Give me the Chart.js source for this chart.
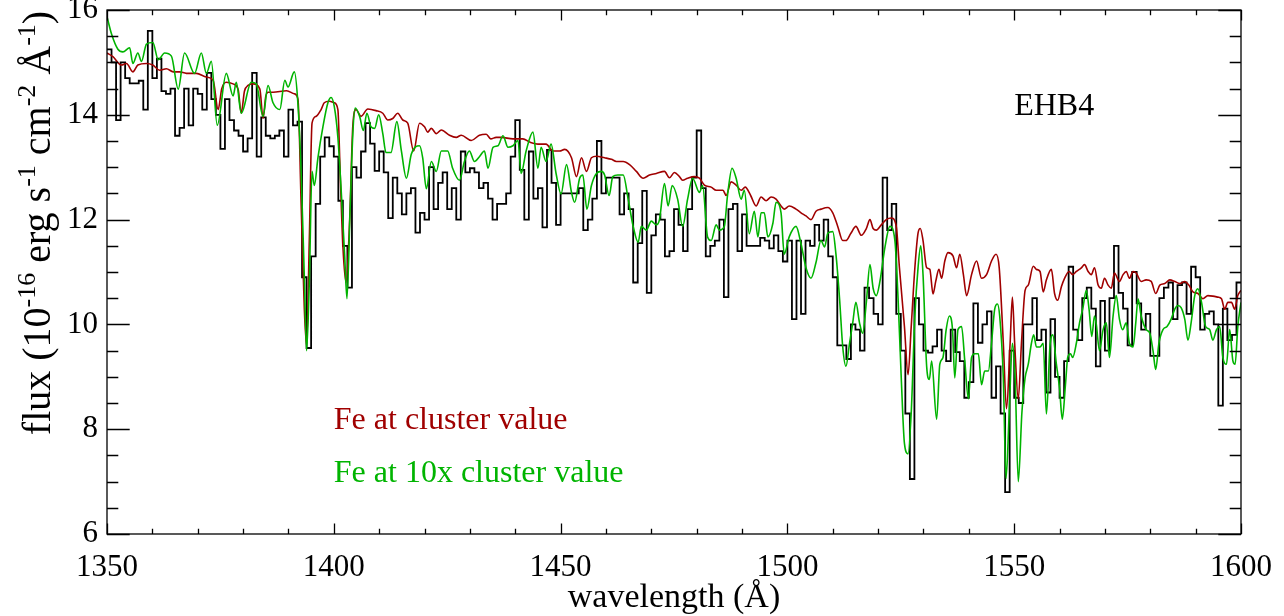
<!DOCTYPE html>
<html>
<head>
<meta charset="utf-8">
<script src="https://cdn.jsdelivr.net/npm/chart.js@4/dist/chart.umd.min.js"></script>
<style>
  html, body { margin: 0; background: #fff; }
</style>
</head>
<body>
<canvas id="specChart" width="1284" height="616"></canvas>
<script>
// observed spectrum, 1 Å bins starting at 1350 Å (flux in 1e-16 erg/s/cm2/Å)
const binStart = 1350;
const binWidth = 1;
const observedFlux = [
  15.25, 15.0, 13.9, 15.0, 14.7, 14.6, 14.6, 14.65, 14.1, 15.6,
  14.7, 15.07, 14.45, 14.4, 14.5, 13.6, 13.75, 14.5, 13.8, 14.5,
  14.4, 14.1, 14.8, 14.3, 14.0, 13.35, 14.3, 13.9, 13.7, 13.6,
  13.3, 13.55, 14.8, 13.2, 13.95, 13.6, 13.55, 13.6, 13.7, 13.2,
  14.1, 13.8, 13.87, 10.9, 9.55, 11.3, 12.3, 13.2, 13.57, 13.4,
  13.2, 12.36, 11.5, 10.7, 13.0, 12.8, 13.3, 13.84, 13.45, 12.93,
  13.3, 12.9, 12.03, 12.8, 12.5, 12.1, 12.5, 12.6, 11.75, 12.13,
  12.0, 13.0, 12.2, 12.7, 12.9, 12.2, 12.6, 12.0, 13.3, 12.9,
  12.98, 12.9, 12.6, 12.7, 12.4, 12.0, 12.3, 12.3, 12.5, 13.2,
  13.9, 12.95, 12.0, 13.3, 12.4, 12.6, 11.85, 13.33, 12.7, 11.9,
  12.5, 12.5, 12.5, 12.5, 12.6, 11.8, 12.0, 12.4, 13.5, 12.5,
  12.8, 12.8, 12.8, 12.1, 12.5, 12.2, 10.8, 11.55, 12.55, 10.6,
  11.7, 12.1, 12.0, 11.3, 11.4, 12.2, 11.9, 11.4, 12.2, 12.8,
  13.7, 12.6, 11.3, 11.5, 11.6, 12.0, 10.52, 12.2, 12.3, 11.4,
  12.1, 11.5, 11.5, 11.5, 11.65, 11.6, 11.45, 11.7, 11.4, 11.2,
  11.6, 10.1, 11.6, 10.2, 11.6, 11.5, 11.9, 11.6, 12.0, 11.3,
  10.9, 9.6, 9.6, 9.34, 10.0, 9.9, 9.5, 10.7, 10.5, 10.2,
  10.0, 12.8, 11.8, 12.3, 10.2, 9.5, 8.3, 7.05, 10.5, 10.0,
  9.5, 9.46, 9.58, 9.9, 9.5, 9.3, 9.9, 9.47, 9.3, 8.6,
  8.9, 10.4, 9.65, 10.0, 10.25, 8.6, 9.2, 8.3, 6.8, 9.5,
  8.6, 8.5, 10.0, 10.0, 10.5, 9.7, 9.9, 8.7, 10.1, 9.0,
  8.6, 9.3, 11.1, 9.9, 9.7, 10.5, 10.7, 10.3, 9.2, 10.45,
  9.5, 10.5, 11.5, 10.6, 10.3, 9.6, 11.0, 10.4, 9.9, 10.2,
  9.4, 9.4, 10.5, 10.7, 10.8, 10.1, 10.75, 10.8, 10.2, 11.1,
  10.9, 9.9, 10.2, 10.25, 10.0, 8.45, 10.3, 9.7, 9.8, 10.8
];

// model with Fe at cluster value: [wavelength, flux]
const modelCluster = [
  [1350, 15.18], [1351.3, 15.11], [1353.2, 14.95], [1354.3, 14.98], [1355.7, 14.82],
  [1356.8, 14.95], [1358.7, 14.98], [1360.1, 14.95], [1361.6, 14.85], [1363.1, 14.88],
  [1364.6, 14.82], [1366, 14.82], [1367.5, 14.79], [1369.7, 14.79], [1371.9, 14.72],
  [1373.4, 14.66], [1374.5, 14.1], [1375.3, 14.5], [1376.3, 14.62], [1377.8, 14.59],
  [1378.9, 14.49], [1379.6, 14.03], [1380.3, 14.45], [1381.1, 14.56], [1382.2, 14.59],
  [1383.7, 14.49], [1384.4, 13.93], [1385, 14.35], [1385.5, 14.43], [1386.6, 14.43],
  [1389.6, 14.46], [1391.3, 14.4], [1392.1, 14.3], [1392.8, 12.3], [1393.5, 10.3],
  [1394.0, 9.6], [1394.6, 11.6], [1395.2, 13.84], [1396.1, 13.97], [1397.2, 14.1],
  [1397.9, 14.23], [1399, 14.26], [1400.1, 14.23], [1400.9, 14.1], [1401.4, 12.9],
  [1402, 11.5], [1402.7, 10.8], [1403.5, 12.0], [1404.2, 13.8], [1404.9, 14.1],
  [1406, 13.97], [1407.5, 14.11], [1409.3, 14.08], [1410.8, 14.03], [1411.9, 13.9],
  [1413, 13.93], [1414.1, 14.03], [1415.2, 13.9], [1416.3, 13.84], [1417.6, 13.31],
  [1418.9, 13.84], [1420, 13.77], [1420.7, 13.67], [1421.5, 13.74], [1422.6, 13.64],
  [1423.7, 13.71], [1425.5, 13.61], [1427, 13.57], [1428.1, 13.61], [1430.3, 13.51],
  [1432.1, 13.61], [1433.6, 13.63], [1434.6, 13.54], [1435.8, 13.57], [1436.9, 13.57],
  [1439.5, 13.54], [1441.7, 13.54], [1443.2, 13.48], [1445, 13.44], [1446.8, 13.44],
  [1448.3, 13.31], [1449.8, 13.31], [1450.9, 13.34], [1452.4, 13.18], [1453.5, 12.82],
  [1454.6, 13.18], [1455.7, 12.92], [1456.8, 13.18], [1457.9, 13.21], [1459.7, 13.18],
  [1461.2, 13.15], [1462.3, 13.11], [1463.8, 13.11], [1465.2, 13.05], [1466.7, 12.92],
  [1468.2, 12.79], [1469.6, 12.85], [1471.1, 12.88], [1472.9, 12.92], [1474, 12.8],
  [1475.1, 12.9], [1476.2, 12.82], [1476.9, 12.75], [1478, 12.79], [1479.5, 12.82],
  [1480.6, 12.79], [1481.7, 12.66], [1483.2, 12.62], [1484.3, 12.56], [1485.8, 12.56],
  [1486.5, 12.46], [1487.6, 12.72], [1488.7, 12.66], [1489.8, 12.56], [1490.7, 12.62],
  [1491.9, 12.46], [1493.1, 12.26], [1494.2, 12.43], [1495.3, 12.36], [1496.4, 12.43],
  [1497.5, 12.39], [1498.6, 12.26], [1499.3, 12.2], [1500.4, 12.26], [1501.9, 12.2],
  [1503, 12.13], [1504.1, 12.07], [1505.2, 12.0], [1506.3, 12.16], [1507.4, 12.2],
  [1508.9, 12.23], [1510, 12.13], [1511.1, 11.87], [1512.2, 11.6], [1512.9, 11.6],
  [1514, 11.74], [1515.1, 11.87], [1516.3, 11.7], [1517.4, 11.83], [1518.2, 12.0],
  [1518.9, 11.83], [1519.6, 11.8], [1520.7, 11.9], [1521.8, 12.0], [1522.9, 12.03],
  [1524, 11.87], [1524.7, 11.08], [1525.8, 9.96], [1526.6, 9.04], [1527.3, 9.96],
  [1528.1, 11.08], [1528.8, 11.74], [1529.3, 11.83], [1529.9, 11.6], [1530.7, 11.08],
  [1531.4, 11.05], [1532.1, 10.58], [1532.7, 10.82], [1533.4, 11.05], [1534, 10.88],
  [1534.7, 11.21], [1535.4, 11.37], [1536.5, 11.31], [1537.3, 11.08], [1538, 11.34],
  [1538.8, 10.95], [1539.5, 10.55], [1540.6, 10.95], [1541.7, 11.21], [1542.8, 10.88],
  [1543.9, 10.95], [1545, 11.21], [1546, 11.34], [1546.7, 11.08], [1547.6, 9.64],
  [1548.3, 8.39], [1549.1, 9.64], [1549.6, 10.52], [1550.1, 9.64], [1550.9, 8.58],
  [1551.6, 9.64], [1552.4, 10.65], [1553.1, 10.75], [1554.2, 11.11], [1554.9, 11.05],
  [1555.7, 11.01], [1556.4, 10.62], [1557.1, 10.85], [1558.2, 11.05], [1558.9, 10.59],
  [1559.6, 10.46], [1560.4, 10.72], [1561.1, 10.88], [1562.1, 11.01], [1562.9, 10.95],
  [1563.7, 11.01], [1564.8, 11.08], [1565.5, 11.14], [1566.3, 11.01], [1567, 10.95],
  [1567.7, 11.08], [1568.5, 10.75], [1569.2, 10.69], [1569.9, 10.88], [1570.7, 10.75],
  [1571.4, 10.69], [1572.1, 10.98], [1573.2, 10.82], [1574, 10.95], [1574.7, 11.01],
  [1575.4, 10.88], [1576.2, 11.01], [1576.9, 10.98], [1578, 10.82], [1579.1, 10.85],
  [1580.2, 10.82], [1581.2, 10.59], [1582.1, 10.75], [1583.2, 10.78], [1584.3, 10.85],
  [1585.4, 10.82], [1586.5, 10.78], [1587.6, 10.82], [1588.5, 10.75], [1589.4, 10.62],
  [1590.5, 10.59], [1591.6, 10.49], [1592.7, 10.55], [1593.8, 10.54], [1594.9, 10.52],
  [1595.7, 10.49], [1596.4, 10.29], [1597.1, 10.42], [1597.9, 10.42], [1598.6, 10.29],
  [1599.3, 10.55], [1600, 10.65]
];

// model with Fe at 10x cluster value: [wavelength, flux]
const modelFe10 = [
  [1350, 15.87], [1351, 15.54], [1352.4, 15.25], [1353.5, 15.2], [1355, 15.28],
  [1355.7, 14.98], [1356.8, 15.18], [1357.6, 15.02], [1358.7, 15.35], [1360.1, 15.38],
  [1361.3, 15.05], [1362.7, 15.18], [1364.2, 15.12], [1365.7, 14.49], [1367.1, 15.18],
  [1369.3, 14.79], [1370.8, 15.18], [1371.9, 14.79], [1373, 15.02], [1374.3, 13.8],
  [1376.3, 14.79], [1377.8, 14.36], [1378.5, 14.62], [1379.6, 14.03], [1381.8, 14.62],
  [1382.9, 14.59], [1384.4, 13.97], [1385.5, 14.56], [1386.6, 14.23], [1388.1, 14.1],
  [1389.2, 14.66], [1389.9, 14.53], [1391.3, 14.82], [1392.1, 14.2], [1392.8, 12.9],
  [1393.5, 10.9], [1394, 9.5], [1394.6, 10.8], [1395.2, 12.92], [1395.7, 12.65],
  [1396.5, 13.18], [1397.6, 13.77], [1398.7, 14.23], [1399.4, 14.33], [1400.1, 14.16],
  [1400.9, 13.57], [1401.6, 12.6], [1402.4, 11.3], [1402.9, 10.49], [1403.6, 12.2],
  [1404.2, 13.64], [1404.7, 14.13], [1405.7, 13.97], [1406.5, 13.7], [1407.3, 14.03],
  [1408.2, 13.77], [1409, 13.74], [1409.9, 14.0], [1410.8, 13.64], [1411.5, 13.28],
  [1412.6, 13.28], [1413.9, 13.87], [1414.9, 13.31], [1416, 12.79], [1417.1, 13.25],
  [1418.9, 13.41], [1419.6, 13.18], [1420.4, 12.59], [1421.5, 13.11], [1422.6, 12.92],
  [1423.7, 13.31], [1425.1, 13.31], [1426.2, 12.98], [1427.7, 12.75], [1428.8, 13.11],
  [1429.9, 13.31], [1431, 13.11], [1432.1, 13.2], [1433.2, 13.31], [1434, 12.98],
  [1435.1, 13.38], [1436.2, 13.41], [1437.3, 13.6], [1438.4, 13.38], [1439.5, 13.41],
  [1440.6, 13.51], [1441.3, 12.88], [1442.4, 13.31], [1443.9, 13.67], [1445, 12.98],
  [1445.7, 13.38], [1446.8, 13.11], [1447.9, 13.44], [1449, 12.88], [1450.1, 12.49],
  [1451.3, 13.05], [1452.4, 12.52], [1453.1, 12.33], [1454.2, 12.79], [1454.9, 12.85],
  [1455.8, 12.2], [1456.8, 12.65], [1457.9, 12.88], [1459, 12.92], [1459.7, 12.85],
  [1460.7, 12.46], [1461.5, 12.82], [1462.6, 12.85], [1463.8, 12.85], [1464.9, 12.39],
  [1466, 11.87], [1467.1, 11.57], [1467.8, 11.87], [1468.9, 11.8], [1470, 11.97],
  [1471.1, 11.9], [1471.8, 12.0], [1472.9, 12.69], [1473.7, 12.26], [1474.6, 12.65],
  [1475.8, 12.39], [1476.9, 11.87], [1478, 12.39], [1479.1, 12.79], [1480.6, 12.52],
  [1481.3, 12.65], [1482.4, 11.67], [1483.2, 11.6], [1484.3, 11.9], [1485, 11.8],
  [1486.1, 11.87], [1486.8, 12.46], [1487.8, 12.98], [1488.7, 12.79], [1489.8, 12.39],
  [1490.5, 12.56], [1491.6, 11.73], [1492.7, 12.16], [1493.5, 11.67], [1494.2, 12.13],
  [1494.9, 12.13], [1495.7, 11.67], [1496.8, 11.93], [1497.5, 12.33], [1498.6, 12.13],
  [1499.3, 11.34], [1500.4, 11.67], [1501.9, 11.87], [1503, 11.54], [1504.1, 11.08],
  [1505.2, 10.88], [1506.3, 11.18], [1507.4, 11.6], [1508.2, 11.48], [1508.9, 11.74],
  [1510, 11.77], [1510.7, 11.34], [1511.5, 10.49], [1512.2, 9.57], [1512.9, 9.2],
  [1513.7, 9.64], [1514.4, 10.03], [1515.1, 10.42], [1515.9, 10.03], [1516.6, 9.83],
  [1517.4, 10.42], [1518.2, 11.14], [1518.9, 10.69], [1519.6, 10.55], [1520.4, 10.82],
  [1521.5, 11.47], [1522.6, 11.87], [1523.7, 11.6], [1524.4, 10.49], [1525.1, 8.98],
  [1525.8, 7.73], [1526.6, 7.53], [1527.3, 8.32], [1528.1, 10.16], [1528.8, 11.08],
  [1529.4, 11.5], [1529.9, 10.95], [1530.7, 9.2], [1531.3, 8.95], [1531.8, 9.3],
  [1532.9, 8.19], [1533.6, 9.24], [1534.3, 9.37], [1535, 9.9], [1535.7, 10.16],
  [1536.4, 9.9], [1536.9, 8.98], [1537.6, 9.9], [1538.4, 9.96], [1539.1, 9.31],
  [1539.9, 8.58], [1540.6, 9.37], [1541.3, 9.44], [1542.1, 9.44], [1542.8, 8.85],
  [1543.5, 9.11], [1544.3, 9.11], [1545, 9.64], [1545.7, 10.29], [1546.3, 10.39],
  [1546.8, 10.16], [1547.6, 8.98], [1548.2, 7.06], [1548.9, 8.32], [1549.6, 9.64],
  [1550.2, 8.98], [1550.9, 7.0], [1551.7, 8.32], [1552.4, 8.98], [1553.1, 9.24],
  [1553.8, 9.64], [1554.3, 9.8], [1554.9, 9.57], [1555.7, 9.57], [1556.4, 9.64],
  [1557.1, 8.29], [1557.9, 9.6], [1558.5, 9.8], [1559.3, 9.24], [1560, 8.78],
  [1560.6, 8.19], [1561.3, 8.85], [1561.8, 9.37], [1562.4, 9.44], [1562.9, 9.37],
  [1563.7, 9.64], [1564.4, 10.03], [1565.1, 10.29], [1565.9, 10.65], [1566.5, 10.29],
  [1567.1, 9.77], [1567.7, 10.16], [1568.1, 10.0], [1568.8, 9.5], [1569.6, 9.9],
  [1570.3, 10.03], [1571, 9.37], [1571.8, 10.16], [1572.5, 10.55], [1573.2, 10.1],
  [1573.9, 9.9], [1574.7, 10.03], [1575.4, 9.64], [1576.2, 9.57], [1576.8, 10.03],
  [1577.3, 10.49], [1578, 10.16], [1579.1, 9.9], [1579.9, 9.83], [1580.6, 9.5],
  [1581.2, 9.14], [1581.9, 9.64], [1582.8, 9.9], [1583.7, 9.96], [1584.6, 10.1],
  [1585.4, 10.29], [1586.1, 10.36], [1586.8, 10.32], [1587.6, 10.1], [1588.3, 9.7],
  [1589, 10.03], [1589.8, 10.55], [1590.5, 10.68], [1591.3, 10.42], [1592.2, 9.96],
  [1593.1, 9.9], [1593.8, 9.7], [1594.6, 9.9], [1595.3, 9.96], [1596, 9.37],
  [1596.8, 9.24], [1597.5, 9.9], [1598.2, 9.31], [1598.7, 9.24], [1599.3, 9.96],
  [1600, 10.42]
];

const xRange = [1350, 1600];
const yRange = [6, 16];
const xMajorStep = 50, xMinorStep = 10;
const yMajorStep = 2, yMinorStep = 0.5;

const RED = '#a00000';
const GREEN = '#00b400';
const FONT = '"Liberation Serif", "Times New Roman", serif';

const toPoints = pairs => pairs.map(p => ({ x: p[0], y: p[1] }));
const observedPoints = observedFlux.map((f, i) => ({ x: binStart + i * binWidth, y: f }));
observedPoints.push({ x: binStart + observedFlux.length * binWidth, y: observedFlux[observedFlux.length - 1] });

// text pieces with superscripts, drawn left to right from baseline y
function richWidth(ctx, parts, base, sup) {
  let w = 0;
  parts.forEach(p => {
    ctx.font = p[1] ? sup : base;
    w += ctx.measureText(p[0]).width;
  });
  return w;
}
function drawRich(ctx, parts, x, y, base, sup, rise) {
  parts.forEach(p => {
    ctx.font = p[1] ? sup : base;
    ctx.fillText(p[0], x, p[1] ? y - rise : y);
    x += ctx.measureText(p[0]).width;
  });
}

const framePlugin = {
  id: 'frame',
  afterDatasetsDraw(chart) {
    const { ctx, chartArea: a, scales: { x, y } } = chart;
    ctx.save();
    ctx.strokeStyle = '#000';
    ctx.lineWidth = 1.3;
    ctx.strokeRect(a.left, a.top, a.right - a.left, a.bottom - a.top);
    ctx.beginPath();
    for (let w = xRange[0]; w <= xRange[1]; w += xMinorStep) {
      const px = Math.round(x.getPixelForValue(w)) + 0.5;
      const len = (w % xMajorStep === 0) ? 10.5 : 5.2;
      ctx.moveTo(px, a.bottom); ctx.lineTo(px, a.bottom - len);
      ctx.moveTo(px, a.top); ctx.lineTo(px, a.top + len);
    }
    for (let f = yRange[0]; f <= yRange[1] + 1e-9; f += yMinorStep) {
      const py = Math.round(y.getPixelForValue(f)) + 0.5;
      const len = (Math.abs(f % yMajorStep) < 1e-9) ? 22.7 : 11.3;
      ctx.moveTo(a.left, py); ctx.lineTo(a.left + len, py);
      ctx.moveTo(a.right, py); ctx.lineTo(a.right - len, py);
    }
    ctx.stroke();

    // labels placed in data coordinates
    ctx.textAlign = 'left';
    ctx.textBaseline = 'alphabetic';
    ctx.font = '32px ' + FONT;
    ctx.fillStyle = RED;
    ctx.fillText('Fe at cluster value', x.getPixelForValue(1400), y.getPixelForValue(8));
    ctx.fillStyle = GREEN;
    ctx.fillText('Fe at 10x cluster value', x.getPixelForValue(1400), y.getPixelForValue(7));
    ctx.fillStyle = '#000';
    ctx.font = '32px ' + FONT;
    ctx.fillText('EHB4', x.getPixelForValue(1550), y.getPixelForValue(14));

    // axis titles
    ctx.font = '34px ' + FONT;
    ctx.textAlign = 'center';
    ctx.fillText('wavelength (Å)', (a.left + a.right) / 2, 607);

    const base = '40px ' + FONT, sup = '26px ' + FONT;
    const yParts = [['flux (10'], ['-16', true], [' erg s'], ['-1', true], [' cm'], ['-2', true], [' Å'], ['-1', true], [')']];
    ctx.textAlign = 'left';
    const tw = richWidth(ctx, yParts, base, sup);
    ctx.translate(50, 223);
    ctx.rotate(-Math.PI / 2);
    drawRich(ctx, yParts, -tw / 2, 0, base, sup, 15);
    ctx.restore();
  }
};

function generateSpectrumChart() {
  const ctx = document.getElementById('specChart').getContext('2d');
  new Chart(ctx, {
    type: 'line',
    data: {
      datasets: [{
        label: 'Fe at 10x cluster value',
        data: toPoints(modelFe10),
        borderColor: GREEN,
        borderWidth: 1.6,
        cubicInterpolationMode: 'monotone',
        pointRadius: 0,
        order: 1
      }, {
        label: 'Fe at cluster value',
        data: toPoints(modelCluster),
        borderColor: RED,
        borderWidth: 1.6,
        cubicInterpolationMode: 'monotone',
        pointRadius: 0,
        order: 2
      }, {
        label: 'EHB4',
        data: observedPoints,
        borderColor: '#000',
        borderWidth: 1.8,
        stepped: true,
        pointRadius: 0,
        order: 3
      }]
    },
    options: {
      responsive: false,
      animation: false,
      devicePixelRatio: 1,
      layout: { padding: { top: 10, right: 43, left: 0, bottom: 0 } },
      plugins: { legend: { display: false }, tooltip: { enabled: false } },
      scales: {
        x: {
          type: 'linear',
          min: xRange[0],
          max: xRange[1],
          grid: { display: false, drawTicks: false },
          border: { display: false },
          ticks: {
            stepSize: xMajorStep,
            autoSkip: false,
            maxRotation: 0,
            padding: 15,
            color: '#000',
            font: { family: FONT, size: 31 },
            callback: v => String(v)
          },
          afterFit: s => { s.height = 82; s.paddingLeft = 0; s.paddingRight = 0; }
        },
        y: {
          min: yRange[0],
          max: yRange[1],
          grid: { display: false, drawTicks: false },
          border: { display: false },
          ticks: {
            stepSize: yMajorStep,
            autoSkip: false,
            padding: 9,
            color: '#000',
            font: { family: FONT, size: 31 },
            callback: v => String(v)
          },
          afterFit: s => { s.width = 107; s.paddingTop = 0; s.paddingBottom = 0; }
        }
      }
    },
    plugins: [framePlugin]
  });
}

document.addEventListener('DOMContentLoaded', () => {
  generateSpectrumChart();
});
</script>
</body>
</html>
